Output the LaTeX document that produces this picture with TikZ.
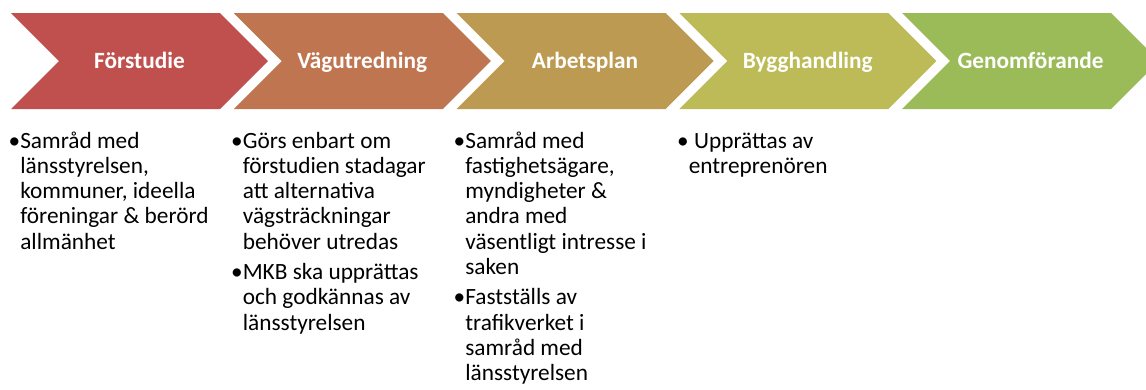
\documentclass[tikz,border=0pt]{standalone}
\usepackage{fontspec}
\setmainfont{Carlito}
\definecolor{fasA}{HTML}{C0504D}
\definecolor{fasB}{HTML}{BF7650}
\definecolor{fasC}{HTML}{BD9A51}
\definecolor{fasD}{HTML}{BCBB57}
\definecolor{fasE}{HTML}{9BBB59}
\newcommand{\ind}{\hphantom{\textbullet}}
\begin{document}
\begin{tikzpicture}[x=1pt, y=-1pt,
	etikett/.style={anchor=base, text=white, font=\fontsize{23.3}{28}\selectfont\bfseries},
	punkter/.style={anchor=base west, inner sep=0pt, font=\fontsize{23.3}{25.3}\selectfont}]
	\clip (0,0) rectangle (1146,389);
	% pilarna
	\foreach \namn/\rubrik/\farg [count=\i from 0] in {forstudie/Förstudie/fasA, vagutredning/Vägutredning/fasB, arbetsplan/Arbetsplan/fasC, bygghandling/Bygghandling/fasD, genomforande/Genomförande/fasE}{
		\pgfmathsetmacro{\xv}{11+222.75*\i}
		\fill[\farg] (\xv,13) -- ++(209,0) -- ++(48,48) -- ++(-48,48) -- ++(-209,0) -- ++(48,-48) -- cycle;
		\node[etikett] (\namn) at (\xv+128.5,68.5) {\rubrik};
	}
	% punkterna
	\node[punkter] (text1) at (8.5,148) {\parbox[t]{215pt}{\textbullet Samråd med\\\ind länsstyrelsen,\\\ind kommuner, ideella\\\ind föreningar \& berörd\\\ind allmänhet}};
	\node[punkter] (text2) at (231,148) {\parbox[t]{215pt}{\textbullet Görs enbart om\\\ind förstudien stadagar\\\ind att alternativa\\\ind vägsträckningar\\\ind behöver utredas\\[5pt]\textbullet MKB ska upprättas\\\ind och godkännas av\\\ind länsstyrelsen}};
	\node[punkter] (text3) at (453.5,148) {\parbox[t]{215pt}{\textbullet Samråd med\\\ind fastighetsägare,\\\ind myndigheter \&\\\ind andra med\\\ind väsentligt intresse i\\\ind saken\\[5pt]\textbullet Fastställs av\\\ind trafikverket i\\\ind samråd med\\\ind länsstyrelsen}};
	\node[punkter] (text4) at (677,148) {\parbox[t]{215pt}{\textbullet{} Upprättas av\\\ind entreprenören}};
\end{tikzpicture}
\end{document}
